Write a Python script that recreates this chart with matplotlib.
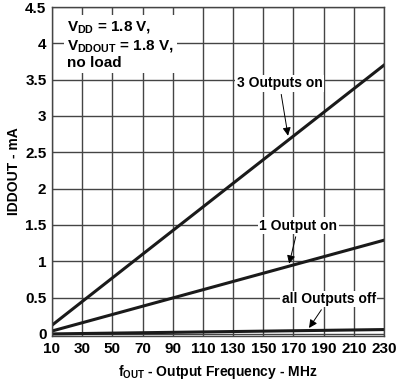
import matplotlib
matplotlib.use('Agg')
import matplotlib.pyplot as plt

# output frequency (MHz) and IDDOUT (mA)
freq = [10, 230]
three_on = [0.12, 3.70]
one_on = [0.04, 1.29]
all_off = [0.0, 0.06]

xticks = list(range(10, 231, 20))
yticks = [0, 0.5, 1, 1.5, 2, 2.5, 3, 3.5, 4, 4.5]

plt.rcParams['font.family'] = 'Liberation Sans'
plt.rcParams['font.weight'] = 'bold'
plt.rcParams['mathtext.fontset'] = 'custom'
plt.rcParams['mathtext.rm'] = 'Liberation Sans:bold'
plt.rcParams['mathtext.it'] = 'Liberation Sans:bold'
plt.rcParams['mathtext.bf'] = 'Liberation Sans:bold'

fig = plt.figure(figsize=(4.0, 3.89), dpi=100)
ax = fig.add_axes([0.13, 0.136, 0.83, 0.846])

ax.plot(freq, three_on, color='#1a1a1a', lw=2.2)
ax.plot(freq, one_on, color='#1a1a1a', lw=2.2)
ax.plot(freq, all_off, color='#1a1a1a', lw=2.2)

ax.set_xlim(10, 230)
ax.set_ylim(-0.03, 4.5)
ax.set_xticks(xticks)
ax.set_yticks(yticks)
ax.set_yticklabels(['0', '0.5', '1', '1.5', '2', '2.5', '3', '3.5', '4', '4.5'])
ax.tick_params(length=0, labelsize=11, pad=4)
ax.grid(True, color='#444444', lw=1.0)
for s in ax.spines.values():
    s.set_color('#444444')
    s.set_linewidth(1.0)

ax.set_xlabel(r'$f_{OUT}$ - Output Frequency - MHz', fontsize=10, fontweight='bold', labelpad=5)
ax.set_ylabel('IDDOUT - mA', fontsize=10, fontweight='bold', labelpad=3)

ax.text(20, 4.33, '$V_{DD}$ = 1.8 V,\n$V_{DDOUT}$ = 1.8 V,\nno load', fontsize=11,
        fontweight='bold', va='top', ha='left', linespacing=1.2,
        bbox=dict(facecolor='white', edgecolor='none', pad=2))

arrow = dict(arrowstyle='-|>', lw=0.7, color='black', mutation_scale=12)
box = dict(facecolor='white', edgecolor='none', pad=1)
ax.annotate('3 Outputs on', xy=(166.7, 2.69), xytext=(160.7, 3.45), fontsize=10,
            fontweight='bold', ha='center', va='center', bbox=box, arrowprops=arrow)
ax.annotate('1 Output on', xy=(166.7, 0.93), xytext=(173.3, 1.49), fontsize=10,
            fontweight='bold', ha='center', va='center', bbox=box, arrowprops=arrow)
ax.annotate('all Outputs off', xy=(179.3, 0.05), xytext=(193.3, 0.48), fontsize=10,
            fontweight='bold', ha='center', va='center', bbox=box, arrowprops=arrow)

plt.savefig('out.png', dpi=100)
